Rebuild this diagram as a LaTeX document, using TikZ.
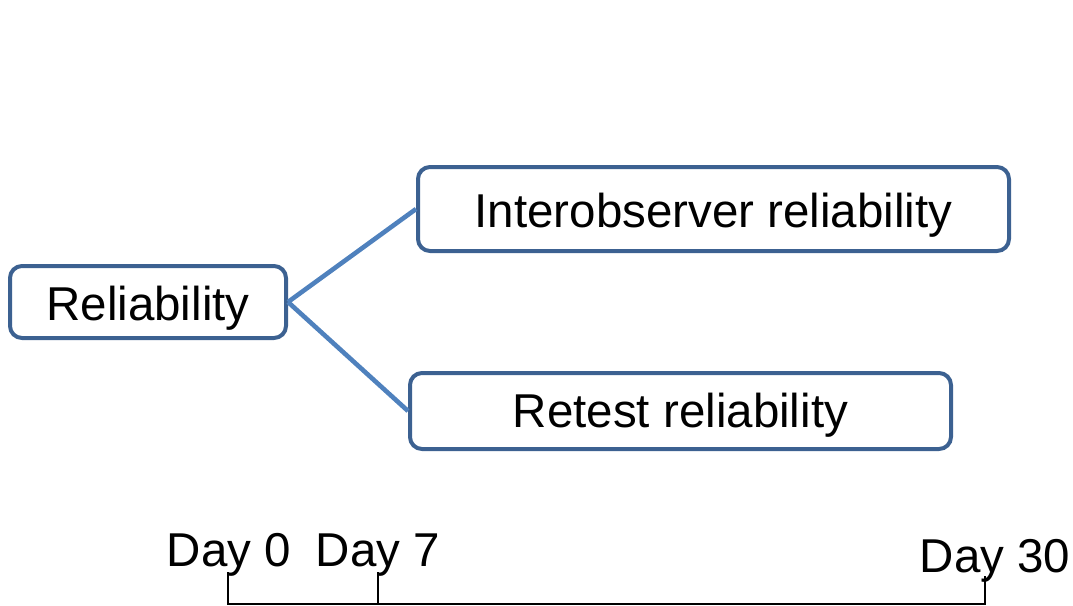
\documentclass[tikz,border=0pt]{standalone}
\usepackage{fontspec}
\setmainfont{Liberation Sans}
\definecolor{boxblue}{HTML}{3C6191}
\definecolor{linkblue}{HTML}{4F81BD}
\newcommand{\lowtext}[2]{\raisebox{-#1}[\height][\depth]{#2}}
\begin{document}
\begin{tikzpicture}[x=0.5pt,y=-0.5pt,
  box/.style={draw=boxblue,line width=2pt,rounded corners=6pt,fill=white,inner sep=0pt,
    font=\fontsize{23.75}{28}\selectfont,text=black},
  link/.style={draw=linkblue,line width=2.3pt},
  lbl/.style={font=\fontsize{23.75}{28}\selectfont,anchor=base,inner sep=0pt},
  axis/.style={line width=1pt,black}]
\useasboundingbox (0,0) rectangle (1073,606);
\node[box,minimum width=138pt,minimum height=36pt] (rel) at (148,302) {\lowtext{3pt}{Reliability}};
\node[box,minimum width=295.5pt,minimum height=42pt] (inter) at (713.5,209) {\lowtext{3pt}{Interobserver reliability}};
\node[box,minimum width=270.5pt,minimum height=38pt] (retest) at (680.5,411) {\lowtext{2.2pt}{Retest reliability}};
\draw[link] (rel.east) -- (inter.west);
\draw[link] (rel.east) -- (retest.west);
\coordinate (t0) at (228,604);
\coordinate (t7) at (378,604);
\coordinate (t30) at (985,604);
\coordinate (t0u) at (228,572);
\coordinate (t7u) at (378,572);
\coordinate (t30u) at (985,576);
\draw[axis] (t0u) -- (t0) -- (t30) -- (t30u);
\draw[axis] (t7u) -- (t7);
\node[lbl] (d0) at (229,566) {Day 0};
\node[lbl] (d7) at (378,566) {Day 7};
\node[lbl] (d30) at (995,572) {Day 30};
\end{tikzpicture}
\end{document}
